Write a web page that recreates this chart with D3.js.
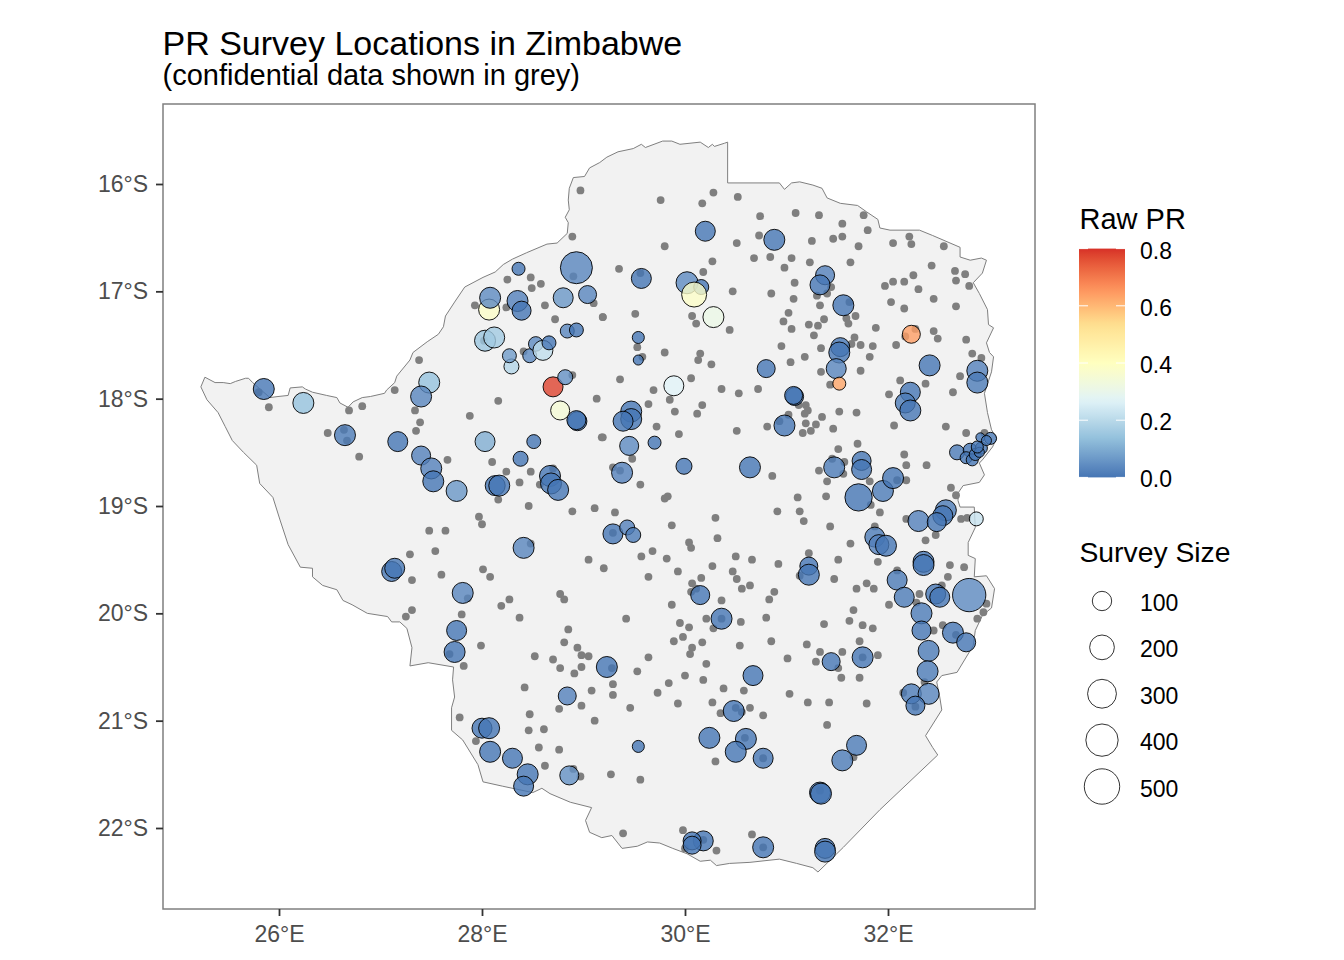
<!DOCTYPE html>
<html>
<head>
<meta charset="utf-8">
<script src="https://cdnjs.cloudflare.com/ajax/libs/d3/7.8.5/d3.min.js"></script>
<style>
    body { margin: 0; background: #fff; }
    text { font-family: "Liberation Sans", Arial, sans-serif; }
</style>
</head>
<body>
<svg id="chart" width="1344" height="960"></svg>
<script>
const lonTicks = [26, 28, 30, 32];
const latTicks = [16, 17, 18, 19, 20, 21, 22];
const prTicks = [0, 0.2, 0.4, 0.6, 0.8];
const sizeTicks = [100, 200, 300, 400, 500];
// RdYlBu, low to high
const prStops = [0, 0.133, 0.267, 0.4, 0.533, 0.667, 0.8];
const prColours = ['#4575b4', '#91bfdb', '#e0f3f8', '#ffffbf', '#fee090', '#fc8d59', '#d73027'];

// lon E, lat S
const border = [
    [25.27,17.80],[25.37,17.85],[25.45,17.85],[25.52,17.86],[25.57,17.84],[25.67,17.81],[25.70,17.81],[25.74,17.85],
    [25.91,17.99],[25.99,17.98],[26.09,17.97],[26.11,17.90],[26.23,17.89],[26.26,17.91],[26.33,17.94],[26.47,17.97],
    [26.57,17.99],[26.60,18.04],[26.68,18.08],[26.73,18.03],[26.82,17.99],[26.90,17.98],[27.04,17.95],[27.06,17.92],
    [27.14,17.85],[27.16,17.79],[27.29,17.64],[27.32,17.57],[27.46,17.47],[27.57,17.40],[27.62,17.33],[27.64,17.23],
    [27.73,17.10],[27.83,16.96],[28.01,16.87],[28.13,16.82],[28.21,16.75],[28.30,16.70],[28.44,16.64],[28.64,16.56],
    [28.74,16.55],[28.84,16.46],[28.85,16.36],[28.82,16.31],[28.86,16.24],[28.85,16.15],[28.86,16.04],[28.90,15.94],
    [29.01,15.93],[29.06,15.85],[29.16,15.80],[29.23,15.75],[29.34,15.70],[29.49,15.67],[29.57,15.63],[29.61,15.66],
    [29.78,15.60],[29.87,15.60],[29.95,15.63],[30.15,15.61],[30.23,15.66],[30.27,15.63],[30.29,15.65],[30.39,15.62],
    [30.42,15.61],[30.42,15.99],[30.93,15.99],[30.98,16.05],[31.05,15.99],[31.13,15.98],[31.26,16.01],[31.35,16.04],
    [31.40,16.13],[31.53,16.18],[31.70,16.20],[31.79,16.26],[31.90,16.33],[31.92,16.41],[32.02,16.43],[32.31,16.43],
    [32.44,16.48],[32.71,16.59],[32.71,16.68],[32.81,16.71],[32.92,16.69],[32.97,16.71],[32.93,16.83],[32.84,16.92],
    [32.90,17.02],[32.98,17.17],[32.99,17.31],[33.04,17.34],[32.97,17.48],[33.00,17.57],[33.04,17.61],[33.02,17.75],
    [32.95,17.95],[32.98,18.13],[33.02,18.29],[33.07,18.37],[33.03,18.45],[32.93,18.57],[32.90,18.60],[32.95,18.71],
    [32.90,18.78],[32.74,18.81],[32.69,18.88],[32.69,18.95],[32.71,19.01],[32.85,19.01],[32.86,19.20],[32.79,19.34],
    [32.79,19.46],[32.86,19.49],[32.85,19.66],[32.97,19.65],[33.05,19.77],[33.02,19.95],[32.93,20.02],[32.86,20.16],
    [32.84,20.30],[32.68,20.55],[32.53,20.58],[32.48,20.64],[32.51,20.78],[32.53,20.90],[32.37,21.14],[32.44,21.25],
    [32.49,21.32],[31.92,21.83],[31.56,22.18],[31.31,22.41],[31.26,22.37],[31.10,22.33],[30.93,22.29],[30.64,22.32],
    [30.44,22.33],[30.31,22.35],[30.25,22.30],[30.15,22.31],[30.02,22.24],[29.88,22.19],[29.75,22.14],[29.63,22.13],
    [29.53,22.17],[29.38,22.19],[29.28,22.07],[29.18,22.09],[29.06,22.04],[29.02,21.93],[29.08,21.81],[28.87,21.76],
    [28.67,21.68],[28.59,21.63],[28.50,21.67],[28.20,21.61],[28.01,21.57],[27.96,21.41],[27.81,21.18],[27.70,21.09],
    [27.70,20.88],[27.73,20.78],[27.71,20.62],[27.72,20.50],[27.47,20.46],[27.29,20.49],[27.31,20.32],[27.26,20.14],
    [27.19,20.08],[27.11,20.08],[27.07,20.03],[26.87,20.00],[26.72,19.92],[26.63,19.88],[26.57,19.78],[26.43,19.74],
    [26.33,19.66],[26.33,19.58],[26.21,19.57],[26.09,19.36],[26.01,19.13],[25.94,18.92],[25.81,18.79],[25.78,18.62],
    [25.65,18.50],[25.54,18.39],[25.47,18.26],[25.40,18.13],[25.29,18.01],[25.23,17.89],
];

// confidential surveys: lon E, lat S
const greyPoints = [
    [28.97,16.06],[28.89,16.49],[28.25,16.89],[28.48,16.87],[28.58,16.93],[28.49,16.97],[27.93,17.13],[28.24,17.15],
    [28.62,17.13],[29.10,17.11],[29.19,17.24],[28.72,17.26],[28.90,16.86],[28.02,17.46],[28.41,17.56],[27.38,17.64],
    [28.89,17.78],[27.14,17.92],[26.82,18.07],[26.69,18.11],[25.90,18.08],[28.16,18.02],[29.13,18.00],[27.34,18.11],
    [27.88,18.16],[27.39,18.22],[27.35,18.30],[29.18,18.36],[26.48,18.32],[26.64,18.29],[26.67,18.39],[26.79,18.54],
    [27.66,18.57],[28.10,18.59],[28.24,18.68],[28.48,18.68],[28.37,18.78],[28.57,18.80],[28.16,18.94],[25.80,17.94],
    [28.70,18.65],
    [29.76,16.15],[30.17,16.18],[30.28,16.08],[30.52,16.12],[30.74,16.30],[31.09,16.27],[31.32,16.29],[31.76,16.29],
    [31.55,16.37],[31.80,16.43],[30.73,16.48],[30.51,16.55],[31.25,16.53],[31.46,16.51],[31.55,16.49],[31.71,16.58],
    [29.80,16.58],[32.21,16.49],[32.23,16.56],[32.05,16.55],[32.55,16.58],[30.27,16.72],[30.68,16.69],[30.84,16.68],
    [31.05,16.69],[31.23,16.73],[31.63,16.73],[30.98,16.78],[32.43,16.76],[29.35,16.79],[29.56,16.83],[30.18,16.82],
    [32.66,16.81],[32.76,16.84],[32.25,16.85],[32.05,16.91],[32.16,16.91],[31.97,16.95],[32.67,16.90],[32.80,16.95],
    [32.30,16.98],[31.08,16.92],[30.47,17.00],[30.85,17.02],[31.07,17.07],[32.45,17.07],[32.03,17.10],[32.16,17.16],
    [32.67,17.14],[31.33,17.13],[31.44,16.96],[31.40,17.02],[31.30,17.04],[31.62,17.10],[31.02,17.20],[29.51,17.21],
    [29.19,17.24],[30.07,17.23],[30.11,17.30],[30.44,17.36],[30.97,17.28],[31.05,17.35],[31.22,17.31],[31.31,17.32],
    [31.37,17.26],[31.27,17.41],[31.59,17.25],[31.68,17.23],[31.61,17.30],[31.88,17.34],[32.45,17.37],[32.49,17.44],
    [32.27,17.35],[32.17,17.42],[32.77,17.45],[31.67,17.43],[31.64,17.49],[31.73,17.50],[31.85,17.51],[32.08,17.50],
    [30.95,17.51],[31.34,17.53],[29.53,17.52],[29.80,17.57],[30.15,17.58],[30.13,17.64],[30.26,17.68],[29.58,17.61],
    [32.83,17.58],[32.92,17.62],[31.18,17.61],[31.04,17.66],[31.82,17.61],[31.34,17.75],[31.73,17.74],[29.36,17.82],
    [30.06,17.81],[32.71,17.79],[32.12,17.83],[32.37,17.86],[31.43,17.87],[29.69,17.92],[30.36,17.91],[30.53,17.95],
    [30.72,17.91],[32.64,17.94],[32.01,17.96],[29.85,18.01],[29.64,18.05],[30.17,18.06],[29.90,18.12],[30.12,18.14],
    [31.19,18.06],[31.12,18.06],[31.21,18.11],[31.18,18.14],[31.52,18.12],[31.69,18.13],[31.02,18.15],[31.35,18.17],
    [31.19,18.23],[31.29,18.24],[31.46,18.28],[32.06,18.25],[32.57,18.26],[30.81,18.26],[30.93,18.21],[30.51,18.30],
    [31.16,18.32],[31.24,18.30],[32.77,18.32],[32.95,18.32],[29.72,18.26],[29.94,18.33],[29.19,18.36],[31.51,18.47],
    [31.70,18.42],[32.16,18.52],[32.18,18.62],[32.38,18.62],[29.48,18.56],[29.29,18.64],[29.36,18.67],[31.32,18.67],
    [31.57,18.59],[31.56,18.70],[31.45,18.56],[30.86,18.72],[29.56,18.80],[31.40,18.77],[31.82,18.77],[32.18,18.76],
    [32.09,18.76],[32.62,18.83],[32.67,18.90],[29.83,18.91],[29.80,18.93],[31.11,18.92],[31.39,18.91],
    [28.46,19.00],[28.89,19.05],[29.11,19.02],[29.31,19.06],[27.97,19.10],[28.00,19.17],[27.48,19.23],[27.64,19.23],
    [27.29,19.45],[27.54,19.42],[27.31,19.69],[27.60,19.64],[28.01,19.59],[28.08,19.66],[28.48,19.35],[29.05,19.50],
    [29.20,19.58],[29.29,19.25],[29.57,19.47],[29.68,19.42],[29.64,19.66],[27.86,19.86],[28.27,19.87],[28.19,19.93],
    [28.37,20.04],[28.77,19.82],[28.81,19.87],[29.42,20.05],[27.31,19.97],[27.25,20.03],[27.80,20.01],[28.85,20.15],
    [28.81,20.27],[28.94,20.32],[28.98,20.39],[29.05,20.40],[28.52,20.40],[28.70,20.43],[28.77,20.51],[28.91,20.56],
    [28.98,20.50],[29.28,20.51],[29.64,20.41],[29.53,20.54],[27.68,20.38],[27.99,20.30],[27.82,20.49],[28.42,20.69],
    [29.29,20.66],[29.08,20.72],[29.29,20.76],[28.98,20.86],[28.76,20.89],[29.46,20.88],[29.73,20.74],[27.78,20.97],
    [28.47,20.94],[29.11,21.00],[28.46,21.09],[28.61,21.08],[27.94,21.19],[28.56,21.25],[28.76,21.27],[28.62,21.42],
    [28.90,21.45],[28.97,21.52],[29.27,21.50],[29.56,21.55],[29.39,22.05],
    [31.83,18.99],[31.92,19.06],[30.91,19.05],[31.13,19.05],[31.17,19.14],[31.43,19.19],[29.87,19.18],[30.30,19.11],
    [30.32,19.30],[30.04,19.34],[30.06,19.39],[29.82,19.49],[30.50,19.47],[30.66,19.50],[30.27,19.56],[30.92,19.54],
    [29.93,19.61],[30.47,19.61],[30.51,19.68],[30.16,19.67],[30.07,19.72],[30.06,19.80],[30.11,19.77],[30.56,19.77],
    [30.64,19.74],[30.88,19.80],[30.83,19.87],[30.36,19.88],[29.87,19.92],[30.80,20.04],[30.21,20.05],[30.36,20.05],
    [30.55,20.08],[29.95,20.09],[30.04,20.13],[30.28,20.14],[29.98,20.22],[29.89,20.26],[30.17,20.27],[30.07,20.32],
    [30.05,20.38],[30.54,20.30],[30.85,20.26],[30.21,20.47],[30.00,20.58],[30.18,20.62],[29.84,20.65],[30.38,20.70],
    [30.58,20.72],[29.93,20.84],[30.27,20.83],[30.35,20.93],[30.50,20.88],[30.64,20.88],[30.56,20.92],[30.77,20.95],
    [30.30,21.38],[29.98,22.02],[30.66,22.06],[30.31,22.21],[30.00,22.19],[30.18,22.11],[30.77,22.18],[30.59,21.16],
    [30.77,21.35],[31.66,21.34],[31.33,21.65],[31.22,19.44],[31.51,19.50],[31.47,19.68],[31.13,19.65],[31.63,19.35],
    [31.87,19.19],[31.90,19.52],[32.09,19.60],[31.69,19.77],[31.79,19.72],[31.86,19.77],[32.01,19.92],[32.37,19.32],
    [32.47,19.27],[32.18,19.12],[32.61,19.55],[32.75,19.57],[32.59,19.66],[32.53,19.74],[32.31,19.82],[32.28,19.90],
    [32.72,19.12],[32.78,19.11],[32.97,19.91],[32.94,19.99],[32.88,20.05],[32.54,20.11],[32.45,20.16],[32.67,20.20],
    [31.66,19.97],[31.62,20.07],[31.37,20.10],[31.75,20.11],[31.85,20.14],[31.20,20.29],[31.72,20.26],[31.33,20.36],
    [31.55,20.36],[31.90,20.39],[31.01,20.42],[31.29,20.45],[31.51,20.51],[31.54,20.60],[31.72,20.60],[31.75,20.41],
    [31.03,20.75],[31.21,20.83],[31.42,20.83],[31.79,20.84],[31.40,21.04],[32.15,20.74],[32.27,20.87],[32.36,20.64],
];

// open surveys: lon E, lat S, raw PR, examined
const surveys = [
    [25.85,17.91,0,127],[26.24,18.04,0.14,127],[26.65,18.34,0.01,127],[27.17,18.40,0,110],[27.40,18.53,0.02,95],
    [27.50,18.65,0.02,127],[27.52,18.77,0,127],[27.75,18.86,0.06,127],[28.03,18.40,0.10,110],[28.38,18.56,0,44],
    [28.51,18.40,0,34],[28.13,18.81,0,110],[28.17,18.81,0,127],[28.67,18.72,0,127],[28.68,18.79,0,127],
    [28.75,18.85,0,127],[28.94,18.21,0,95],[28.93,18.20,0,95],[28.77,18.11,0.35,95],[28.70,17.89,0.78,110],
    [28.82,17.80,0.05,44],[28.29,17.70,0.19,44],[28.27,17.60,0.07,34],[28.47,17.60,0.04,34],[28.53,17.49,0.04,40],
    [28.60,17.55,0.21,110],[28.66,17.48,0,34],[28.84,17.37,0.03,34],[28.93,17.36,0,34],[28.03,17.46,0.15,127],
    [28.12,17.43,0.16,127],[27.48,17.85,0.14,127],[27.40,17.98,0.03,127],[28.07,17.17,0.38,127],[28.08,17.06,0.04,127],
    [28.35,17.09,0.02,127],[28.39,17.18,0,95],[28.80,17.06,0.06,110],[29.04,17.03,0.03,80],[28.36,16.79,0,26],
    [28.93,16.78,0.03,390],[30.20,16.44,0,110],[30.88,16.52,0,127],[29.57,16.88,0,110],[30.02,16.92,0.04,145],
    [30.16,16.96,0,44],[30.09,17.03,0.38,205],[30.28,17.24,0.31,127],[29.54,17.43,0,19],[29.54,17.64,0,8],
    [29.89,17.88,0.27,110],[29.47,18.12,0,127],[29.47,18.19,0,127],[29.39,18.21,0,110],[29.45,18.44,0.04,95],
    [29.70,18.41,0,26],[29.99,18.63,0,55],[30.64,18.64,0,127],[29.38,18.69,0.02,127],[30.80,17.72,0,80],
    [31.08,17.98,0,80],[31.07,17.97,0,80],[30.98,18.25,0,127],[31.38,16.85,0.02,95],[31.33,16.94,0,110],
    [31.56,17.13,0,127],[31.53,17.52,0,95],[31.52,17.57,0,127],[31.49,17.72,0.03,110],[31.52,17.86,0.63,26],
    [32.23,17.40,0.64,80],[32.41,17.69,0,127],[32.22,17.94,0,110],[32.17,18.04,0.01,110],[32.22,18.11,0,127],
    [32.88,17.74,0.02,127],[32.88,17.85,0.01,127],[31.47,18.64,0.01,127],[31.74,18.58,0,95],[31.74,18.66,0,110],
    [31.95,18.86,0.01,127],[32.05,18.74,0,127],[31.71,18.92,0,260],[32.30,19.14,0.02,127],[32.57,19.04,0.01,127],
    [32.54,19.09,0,110],[32.48,19.15,0,95],[32.87,19.12,0.22,34],[31.87,19.29,0.01,110],[31.91,19.36,0.02,110],
    [31.98,19.37,0,127],[32.35,19.52,0,127],[32.35,19.55,0,127],[32.09,19.69,0.01,110],[32.16,19.85,0.01,110],
    [32.47,19.82,0,110],[32.51,19.85,0,110],[32.80,19.83,0.04,430],[32.33,20.00,0.01,127],[32.33,20.16,0,95],
    [32.64,20.18,0,127],[32.77,20.27,0,95],[32.40,20.35,0.01,127],[32.39,20.54,0.01,127],[32.23,20.75,0.01,110],
    [32.40,20.75,0.03,127],[32.27,20.86,0,95],[31.69,21.23,0.01,110],[31.55,21.37,0.01,127],[31.33,21.67,0,127],
    [31.34,21.68,0,127],[31.38,22.19,0,110],[31.38,22.22,0,127],[30.77,22.18,0,127],[30.18,22.12,0,110],
    [30.07,22.12,0,80],[30.07,22.16,0,80],[30.67,20.58,0,110],[30.48,20.91,0,127],[30.24,21.16,0,127],
    [30.60,21.17,0,127],[30.50,21.29,0,127],[30.77,21.35,0,110],[30.15,19.83,0,95],[30.36,20.05,0,127],
    [31.22,19.56,0,80],[31.22,19.64,0,127],[31.44,20.45,0,80],[31.75,20.41,0,127],[27.11,19.61,0,110],
    [27.14,19.58,0,110],[27.81,19.81,0.03,127],[27.75,20.16,0,110],[27.73,20.36,0,127],[28.41,19.39,0.03,127],
    [29.29,19.26,0,110],[29.43,19.20,0.02,44],[29.49,19.27,0.01,44],[28.00,21.07,0,110],[28.07,21.07,0,127],
    [28.08,21.29,0,127],[28.30,21.35,0,110],[28.45,21.50,0,127],[28.41,21.61,0,110],[28.86,21.51,0.05,95],
    [28.84,20.77,0.02,80],[29.23,20.50,0,127],[29.54,21.24,0,19],
    // Mutare-side cluster
    [32.68,18.50,0.01,44],[32.81,18.48,0,34],[32.77,18.55,0,19],[32.83,18.57,0,19],[32.86,18.52,0,19],
    [32.92,18.46,0,19],[32.90,18.50,0,8],[32.88,18.45,0,19],[32.91,18.36,0,4],[33.01,18.37,0.01,19],[32.97,18.39,0,8],
];

const x = d3.scaleLinear().domain([26, 32]).range([279, 888]);
const y = d3.scaleLinear().domain([16, 22]).range([184, 828]);
const radius = d3.scaleSqrt().domain([0, 500]).range([3.2, 17.7]);
const colour = d3.scaleLinear().domain(prStops).range(prColours).interpolate(d3.interpolateLab);

const panel = {left: 163, right: 1035, top: 104, bottom: 909};
const svg = d3.select('#chart');

svg.append('text').attr('x', 162.5).attr('y', 55).attr('font-size', 34).attr('fill', '#000')
    .text('PR Survey Locations in Zimbabwe');
svg.append('text').attr('x', 162.5).attr('y', 85).attr('font-size', 29).attr('fill', '#000')
    .text('(confidential data shown in grey)');

// map
const line = d3.line().x(d => x(d[0])).y(d => y(d[1]));
svg.append('path').attr('d', line(border) + 'Z')
    .attr('fill', '#f2f2f2').attr('stroke', '#7f7f7f').attr('stroke-width', 1);

svg.append('g').selectAll('circle').data(greyPoints).join('circle')
    .attr('cx', d => x(d[0])).attr('cy', d => y(d[1])).attr('r', 3.9)
    .attr('fill', '#7f7f7f');

svg.append('g').selectAll('circle').data(surveys).join('circle')
    .attr('cx', d => x(d[0])).attr('cy', d => y(d[1])).attr('r', d => radius(d[3]))
    .attr('fill', d => colour(d[2])).attr('fill-opacity', 0.8)
    .attr('stroke', '#000').attr('stroke-width', 0.9);

svg.append('rect')
    .attr('x', panel.left).attr('y', panel.top)
    .attr('width', panel.right - panel.left).attr('height', panel.bottom - panel.top)
    .attr('fill', 'none').attr('stroke', '#7f7f7f').attr('stroke-width', 1.5);

// axes
const styleAxis = g => {
    g.select('.domain').remove();
    g.selectAll('.tick line').attr('stroke', '#333').attr('stroke-width', 1.8);
    g.selectAll('.tick text').attr('fill', '#4d4d4d').attr('font-size', 23)
        .attr('font-family', '"Liberation Sans", Arial, sans-serif');
};
svg.append('g').attr('transform', `translate(0,${panel.bottom})`)
    .call(d3.axisBottom(x).tickValues(lonTicks).tickSize(7).tickPadding(10).tickFormat(d => d + '°E'))
    .call(styleAxis);
svg.append('g').attr('transform', `translate(${panel.left},0)`)
    .call(d3.axisLeft(y).tickValues(latTicks).tickSize(7).tickPadding(8).tickFormat(d => d + '°S'))
    .call(styleAxis);

// colour legend
const barLeft = 1079, barWidth = 46;
const barY = d3.scaleLinear().domain([0, 0.8]).range([477.4, 248.6]);
const legend = svg.append('g');
legend.append('text').attr('x', 1079.5).attr('y', 229).attr('font-size', 29).text('Raw PR');

const grad = svg.append('defs').append('linearGradient').attr('id', 'prGrad')
    .attr('x1', 0).attr('y1', 1).attr('x2', 0).attr('y2', 0);
grad.selectAll('stop').data(d3.range(0, 0.801, 0.02)).join('stop')
    .attr('offset', d => d / 0.8).attr('stop-color', d => colour(d));
legend.append('rect').attr('x', barLeft).attr('y', barY(0.8))
    .attr('width', barWidth).attr('height', barY(0) - barY(0.8)).attr('fill', 'url(#prGrad)');

prTicks.forEach(t => {
    [[barLeft, barLeft + 9], [barLeft + barWidth - 9, barLeft + barWidth]].forEach(([a, b]) => {
        legend.append('line').attr('x1', a).attr('x2', b).attr('y1', barY(t)).attr('y2', barY(t))
            .attr('stroke', '#fff').attr('stroke-width', 1);
    });
    legend.append('text').attr('x', 1140).attr('y', barY(t) + 10).attr('font-size', 23)
        .text(d3.format('.1f')(t));
});

// size legend
legend.append('text').attr('x', 1079.5).attr('y', 562).attr('font-size', 28.3).text('Survey Size');
const sizeY = d3.scalePoint().domain(sizeTicks).range([601, 786.5]);
sizeTicks.forEach(s => {
    legend.append('circle').attr('cx', 1102).attr('cy', sizeY(s)).attr('r', radius(s))
        .attr('fill', '#fff').attr('stroke', '#000').attr('stroke-width', 0.8);
    legend.append('text').attr('x', 1140).attr('y', sizeY(s) + 10).attr('font-size', 23).text(s);
});
</script>
</body>
</html>
